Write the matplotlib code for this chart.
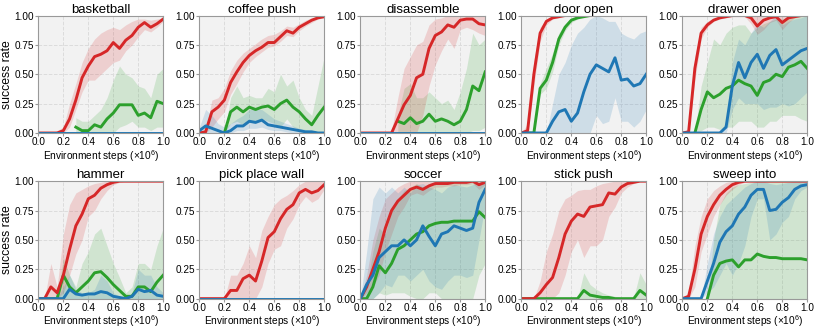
import numpy as np
import matplotlib.pyplot as plt

plt.rcParams['font.family'] = ['Liberation Sans', 'DejaVu Sans']
plt.rcParams['mathtext.fontset'] = 'custom'
plt.rcParams['mathtext.rm'] = 'Liberation Sans'
plt.rcParams['mathtext.it'] = 'Liberation Sans:italic'

nan = np.nan
steps = [0.0, 0.05, 0.1, 0.15, 0.2, 0.25, 0.3, 0.35, 0.4, 0.45, 0.5,
         0.55, 0.6, 0.65, 0.7, 0.75, 0.8, 0.85, 0.9, 0.95, 1.0]
zeros = [0.0] * 21
tasks = ["basketball", "coffee push", "disassemble", "door open", "drawer open",
         "hammer", "pick place wall", "soccer", "stick push", "sweep into"]

# basketball
bb_red = [0, 0, 0, 0, 0.02, 0.12, 0.28, 0.47, 0.57, 0.65, 0.67, 0.70, 0.77, 0.72, 0.79, 0.83, 0.90, 0.94, 0.90, 0.93, 0.97]
bb_red_lo = [0, 0, 0, 0, 0, 0.05, 0.2, 0.35, 0.45, 0.45, 0.5, 0.55, 0.6, 0.62, 0.7, 0.75, 0.82, 0.88, 0.86, 0.9, 0.95]
bb_red_hi = [0, 0, 0, 0.02, 0.05, 0.25, 0.42, 0.6, 0.72, 0.8, 0.85, 0.88, 0.9, 0.88, 0.92, 0.95, 0.97, 0.97, 0.96, 0.97, 0.98]
bb_green = [nan, nan, nan, nan, nan, nan, 0.05, 0.02, 0.02, 0.07, 0.05, 0.12, 0.17, 0.24, 0.24, 0.24, 0.15, 0.17, 0.13, 0.27, 0.25]
bb_green_lo = [nan, nan, nan, nan, nan, nan, 0, 0, 0, 0, 0, 0, 0, 0.05, 0.07, 0.1, 0.05, 0.05, 0.02, 0.05, 0.05]
bb_green_hi = [nan, nan, nan, nan, nan, nan, 0.13, 0.1, 0.1, 0.15, 0.2, 0.3, 0.45, 0.57, 0.5, 0.47, 0.4, 0.38, 0.3, 0.5, 0.55]
bb_blue = zeros

# coffee push
cp_red = [0, 0.01, 0.18, 0.22, 0.28, 0.43, 0.52, 0.6, 0.66, 0.70, 0.73, 0.77, 0.77, 0.82, 0.87, 0.85, 0.90, 0.93, 0.96, 0.98, 0.99]
cp_red_lo = [0, 0, 0.05, 0.12, 0.18, 0.33, 0.42, 0.52, 0.6, 0.65, 0.69, 0.73, 0.74, 0.78, 0.83, 0.82, 0.87, 0.91, 0.94, 0.97, 0.98]
cp_red_hi = [0, 0.03, 0.28, 0.3, 0.38, 0.53, 0.62, 0.68, 0.72, 0.76, 0.80, 0.83, 0.84, 0.87, 0.91, 0.9, 0.93, 0.96, 0.98, 0.99, 1.0]
cp_green = [nan, nan, nan, nan, 0, 0.18, 0.22, 0.18, 0.22, 0.2, 0.22, 0.23, 0.2, 0.25, 0.28, 0.22, 0.18, 0.12, 0.07, 0.15, 0.22]
cp_green_lo = [nan, nan, nan, nan, 0, 0.08, 0.1, 0.07, 0.1, 0.1, 0.12, 0.1, 0.08, 0.05, 0.12, 0.05, 0.03, 0.02, 0, 0, 0]
cp_green_hi = [nan, nan, nan, nan, 0, 0.3, 0.4, 0.3, 0.32, 0.3, 0.3, 0.38, 0.35, 0.5, 0.4, 0.45, 0.3, 0.2, 0.15, 0.4, 0.65]
cp_blue = [0.02, 0.06, 0.04, 0.02, 0, 0.02, 0.06, 0.06, 0.1, 0.09, 0.11, 0.07, 0.06, 0.05, 0.04, 0.03, 0.02, 0.01, 0.01, 0, 0]
cp_blue_lo = [0, 0, 0, 0, 0, 0, 0.02, 0.02, 0.04, 0.04, 0.05, 0.03, 0.02, 0.02, 0.01, 0, 0, 0, 0, 0, 0]
cp_blue_hi = [0.05, 0.2, 0.15, 0.08, 0.05, 0.08, 0.12, 0.15, 0.2, 0.2, 0.2, 0.16, 0.12, 0.1, 0.08, 0.06, 0.04, 0.03, 0.02, 0.01, 0.01]

# disassemble
di_red = [0, 0, 0, 0, 0, 0, 0.12, 0.24, 0.32, 0.47, 0.5, 0.72, 0.83, 0.86, 0.92, 0.9, 0.96, 0.97, 0.97, 0.93, 0.92]
di_red_lo = [0, 0, 0, 0, 0, 0, 0, 0, 0, 0, 0.15, 0.4, 0.58, 0.7, 0.8, 0.72, 0.88, 0.9, 0.88, 0.85, 0.83]
di_red_hi = [0, 0, 0, 0, 0, 0.02, 0.3, 0.55, 0.65, 0.75, 0.78, 0.92, 0.97, 0.98, 1, 1, 1, 1, 1, 1, 1]
di_green = [nan, nan, nan, nan, nan, nan, 0.1, 0.08, 0.13, 0.08, 0.1, 0.16, 0.1, 0.12, 0.1, 0.07, 0.1, 0.2, 0.4, 0.36, 0.52]
di_green_lo = [nan, nan, nan, nan, nan, nan, 0, 0, 0, 0, 0, 0, 0, 0, 0, 0, 0, 0, 0.02, 0.02, 0.05]
di_green_hi = [nan, nan, nan, nan, nan, nan, 0.15, 0.38, 0.42, 0.3, 0.3, 0.35, 0.3, 0.25, 0.28, 0.2, 0.35, 0.55, 0.85, 0.75, 0.8]
di_blue = zeros

# door open
do_red = [0, 0.02, 0.5, 0.85, 0.95, 0.98, 0.99, 1, 1, 1, 1, 1, 1, 1, 1, 1, 1, 1, 1, 1, 1]
do_red_lo = [0, 0, 0.4, 0.78, 0.92, 0.97, 0.98, 1, 1, 1, 1, 1, 1, 1, 1, 1, 1, 1, 1, 1, 1]
do_red_hi = [0, 0.08, 0.62, 0.9, 0.97, 0.99, 1, 1, 1, 1, 1, 1, 1, 1, 1, 1, 1, 1, 1, 1, 1]
do_green = [0, 0, 0, 0.38, 0.45, 0.6, 0.8, 0.9, 0.96, 0.98, 0.99, 1, 1, 1, 1, 1, 1, 1, 1, 1, 1]
do_green_lo = [0, 0, 0, 0.33, 0.38, 0.52, 0.75, 0.87, 0.94, 0.97, 0.99, 1, 1, 1, 1, 1, 1, 1, 1, 1, 1]
do_green_hi = [0, 0, 0, 0.42, 0.55, 0.68, 0.85, 0.93, 0.98, 0.99, 1, 1, 1, 1, 1, 1, 1, 1, 1, 1, 1]
do_blue = [0, 0, 0, 0, 0, 0.1, 0.18, 0.2, 0.1, 0.17, 0.35, 0.5, 0.58, 0.55, 0.52, 0.64, 0.45, 0.46, 0.4, 0.42, 0.5]
do_blue_lo = [0, 0, 0, 0, 0, 0, 0, 0, 0, 0, 0, 0, 0.15, 0.08, 0.1, 0.3, 0.1, 0.1, 0.05, 0.1, 0.2]
do_blue_hi = [0, 0, 0, 0, 0, 0.25, 0.5, 0.6, 0.75, 0.85, 0.9, 0.97, 1.0, 0.98, 0.95, 0.95, 0.85, 0.82, 0.8, 0.85, 0.87]

# drawer open
dr_red = [0, 0.01, 0.55, 0.85, 0.92, 0.96, 0.98, 0.99, 1, 1, 1, 0.98, 0.91, 0.96, 0.98, 0.99, 0.94, 0.98, 0.99, 1, 1]
dr_red_lo = [0, 0, 0.45, 0.8, 0.9, 0.95, 0.97, 0.98, 0.99, 0.99, 0.99, 0.93, 0.84, 0.88, 0.94, 0.96, 0.88, 0.94, 0.98, 0.99, 1]
dr_red_hi = [0, 0.04, 0.65, 0.9, 0.95, 0.98, 0.99, 1, 1, 1, 1, 1, 0.99, 1, 1, 1, 1, 1, 1, 1, 1]
dr_green = [nan, nan, 0, 0.2, 0.35, 0.3, 0.33, 0.38, 0.4, 0.45, 0.42, 0.4, 0.32, 0.43, 0.45, 0.5, 0.48, 0.56, 0.58, 0.61, 0.55]
dr_green_lo = [nan, nan, 0, 0.02, 0.05, 0.05, 0.03, 0.05, 0.05, 0.1, 0.1, 0.1, 0.05, 0.05, 0.1, 0.1, 0.15, 0.15, 0.15, 0.12, 0.1]
dr_green_hi = [nan, nan, 0, 0.4, 0.6, 0.8, 0.75, 0.85, 0.9, 0.92, 0.92, 0.85, 0.9, 0.93, 0.95, 0.97, 0.97, 0.98, 0.99, 1, 1]
dr_blue = [0, 0, 0, 0, 0, 0, 0, 0.05, 0.4, 0.6, 0.47, 0.6, 0.67, 0.55, 0.66, 0.71, 0.58, 0.62, 0.66, 0.7, 0.72]
dr_blue_lo = [0, 0, 0, 0, 0, 0, 0, 0, 0.2, 0.3, 0.25, 0.25, 0.25, 0.2, 0.22, 0.22, 0.25, 0.23, 0.25, 0.3, 0.35]
dr_blue_hi = [0, 0, 0, 0, 0, 0, 0, 0.1, 0.6, 0.8, 0.75, 0.85, 0.93, 0.9, 0.95, 1, 0.92, 0.95, 0.97, 0.98, 1]

# hammer
ha_red = [0, 0, 0.1, 0.05, 0.2, 0.42, 0.62, 0.72, 0.85, 0.88, 0.94, 0.97, 0.99, 1, 1, 1, 1, 1, 1, 1, 1]
ha_red_lo = [0, 0, 0, 0, 0.05, 0.2, 0.38, 0.5, 0.7, 0.75, 0.85, 0.92, 0.97, 0.99, 1, 1, 1, 1, 1, 1, 1]
ha_red_hi = [0, 0, 0.3, 0.1, 0.55, 0.8, 0.9, 0.93, 0.96, 0.98, 0.99, 1, 1, 1, 1, 1, 1, 1, 1, 1, 1]
ha_green = [0, 0, 0, 0, 0.2, 0.1, 0.05, 0.1, 0.15, 0.22, 0.23, 0.18, 0.12, 0.07, 0.02, 0.02, 0.1, 0.1, 0.06, 0.14, 0.2]
ha_green_lo = zeros
ha_green_hi = [0, 0, 0, 0, 0.35, 0.2, 0.1, 0.3, 0.4, 0.55, 0.6, 0.45, 0.3, 0.18, 0.05, 0.1, 0.3, 0.3, 0.25, 0.45, 0.6]
ha_blue = [0, 0, 0, 0, 0, 0.08, 0.04, 0.03, 0.04, 0.04, 0.06, 0.05, 0.02, 0.01, 0, 0.02, 0.08, 0.06, 0.07, 0.03, 0.02]
ha_blue_lo = zeros
ha_blue_hi = [0, 0, 0, 0, 0.1, 0.2, 0.08, 0.05, 0.05, 0.08, 0.2, 0.15, 0.05, 0.02, 0.01, 0.05, 0.25, 0.2, 0.2, 0.1, 0.05]

# pick place wall
pp_red = [0, 0, 0, 0, 0, 0.07, 0.07, 0.17, 0.2, 0.15, 0.32, 0.52, 0.57, 0.68, 0.76, 0.8, 0.9, 0.93, 0.9, 0.92, 0.97]
pp_red_lo = [0, 0, 0, 0, 0, 0, 0, 0, 0, 0, 0.1, 0.3, 0.42, 0.45, 0.6, 0.68, 0.8, 0.87, 0.82, 0.85, 0.93]
pp_red_hi = [0, 0, 0, 0, 0, 0.2, 0.2, 0.3, 0.45, 0.35, 0.58, 0.7, 0.8, 0.85, 0.88, 0.92, 0.97, 1, 1, 1, 1]
pp_blue = zeros

# soccer
so_red = [0, 0.1, 0.25, 0.4, 0.6, 0.75, 0.83, 0.88, 0.93, 0.95, 0.93, 0.96, 0.98, 0.98, 0.98, 0.99, 0.99, 0.99, 1.0, 0.97, 0.99]
so_red_lo = [0, 0.05, 0.1, 0.2, 0.4, 0.55, 0.7, 0.78, 0.88, 0.9, 0.88, 0.92, 0.95, 0.95, 0.96, 0.96, 0.97, 0.97, 0.98, 0.93, 0.97]
so_red_hi = [0, 0.2, 0.5, 0.7, 0.85, 0.9, 0.95, 0.98, 1, 1, 1, 1, 1, 1, 1, 1, 1, 1, 1, 1, 1]
so_green = [0, 0, 0.1, 0.28, 0.22, 0.3, 0.42, 0.45, 0.5, 0.55, 0.57, 0.62, 0.64, 0.65, 0.65, 0.66, 0.66, 0.66, 0.66, 0.74, 0.69]
so_green_lo = [0, 0, 0, 0.05, 0.03, 0.05, 0.05, 0.05, 0.02, 0, 0, 0.05, 0.05, 0, 0, 0, 0, 0, 0, 0.2, 0.3]
so_green_hi = [0, 0.1, 0.4, 0.6, 0.55, 0.75, 0.85, 0.92, 0.95, 0.98, 0.95, 0.98, 0.99, 1, 1, 1, 1, 1, 1, 1, 1]
so_blue = [0, 0.12, 0.2, 0.35, 0.4, 0.45, 0.45, 0.5, 0.45, 0.5, 0.62, 0.53, 0.45, 0.55, 0.57, 0.62, 0.6, 0.58, 0.6, 0.82, 0.93]
so_blue_lo = [0, 0, 0, 0.05, 0.12, 0.1, 0.2, 0.2, 0.15, 0.2, 0.25, 0.15, 0.1, 0.08, 0.15, 0.2, 0.2, 0.18, 0.2, 0.5, 0.8]
so_blue_hi = [0, 0.4, 0.85, 0.95, 0.9, 0.95, 0.9, 0.95, 0.9, 0.97, 0.98, 0.95, 0.93, 0.9, 0.95, 0.97, 0.96, 0.95, 0.97, 0.99, 1]

# stick push
sp_red = [0, 0, 0, 0.05, 0.12, 0.18, 0.35, 0.55, 0.66, 0.72, 0.7, 0.78, 0.79, 0.8, 0.9, 0.89, 0.95, 0.98, 0.99, 1, 1]
sp_red_lo = [0, 0, 0, 0, 0, 0, 0.05, 0.2, 0.4, 0.5, 0.35, 0.45, 0.45, 0.5, 0.7, 0.78, 0.9, 0.95, 0.98, 1, 1]
sp_red_hi = [0, 0, 0, 0.15, 0.4, 0.55, 0.75, 0.85, 0.88, 0.92, 0.93, 0.93, 0.96, 0.98, 0.99, 1, 1, 1, 1, 1, 1]
sp_green = [0, 0, 0, 0, 0, 0, 0, 0, 0, 0, 0.07, 0.03, 0.02, 0.01, 0.01, 0, 0, 0, 0, 0.07, 0.03]
sp_green_lo = zeros
sp_green_hi = [0, 0, 0, 0, 0, 0, 0, 0, 0, 0, 0.22, 0.12, 0.08, 0.05, 0.03, 0.02, 0.01, 0.01, 0.01, 0.22, 0.12]

# sweep into
sw_red = [0, 0.02, 0.25, 0.55, 0.7, 0.8, 0.88, 0.93, 0.97, 0.99, 1, 1, 1, 1, 1, 1, 1, 1, 1, 1, 1]
sw_red_lo = [0, 0, 0.1, 0.4, 0.55, 0.7, 0.8, 0.88, 0.93, 0.97, 0.99, 1, 1, 1, 1, 1, 1, 1, 1, 1, 1]
sw_red_hi = [0, 0.05, 0.45, 0.7, 0.85, 0.92, 0.96, 0.99, 1, 1, 1, 1, 1, 1, 1, 1, 1, 1, 1, 1, 1]
sw_green = [nan, nan, nan, nan, 0, 0.2, 0.3, 0.32, 0.33, 0.27, 0.33, 0.33, 0.38, 0.36, 0.35, 0.35, 0.34, 0.34, 0.34, 0.34, 0.33]
sw_green_lo = [nan, nan, nan, nan, 0, 0, 0, 0, 0, 0, 0, 0, 0, 0, 0, 0, 0, 0, 0, 0, 0]
sw_green_hi = [nan, nan, nan, nan, 0, 0.5, 0.8, 0.9, 0.95, 0.97, 0.98, 0.99, 1, 1, 1, 1, 1, 1, 1, 1, 1]
sw_blue = [0, 0, 0, 0, 0.15, 0.3, 0.48, 0.57, 0.62, 0.72, 0.78, 0.88, 0.93, 0.93, 0.75, 0.76, 0.82, 0.86, 0.93, 0.96, 0.97]
sw_blue_lo = [0, 0, 0, 0, 0.05, 0.1, 0.2, 0.3, 0.2, 0.3, 0.45, 0.7, 0.85, 0.85, 0.5, 0.55, 0.65, 0.7, 0.85, 0.92, 0.95]
sw_blue_hi = [0, 0, 0, 0, 0.3, 0.55, 0.7, 0.8, 0.85, 0.9, 0.95, 0.98, 1, 1, 0.98, 0.97, 0.98, 0.99, 1, 1, 1]

# per panel: (mean, lo, hi) for green, red, blue ; None = not shown
panels = [
    [(bb_green, bb_green_lo, bb_green_hi), (bb_red, bb_red_lo, bb_red_hi), (bb_blue, None, None)],
    [(cp_green, cp_green_lo, cp_green_hi), (cp_red, cp_red_lo, cp_red_hi), (cp_blue, cp_blue_lo, cp_blue_hi)],
    [(di_green, di_green_lo, di_green_hi), (di_red, di_red_lo, di_red_hi), (di_blue, None, None)],
    [(do_green, do_green_lo, do_green_hi), (do_red, do_red_lo, do_red_hi), (do_blue, do_blue_lo, do_blue_hi)],
    [(dr_green, dr_green_lo, dr_green_hi), (dr_red, dr_red_lo, dr_red_hi), (dr_blue, dr_blue_lo, dr_blue_hi)],
    [(ha_green, ha_green_lo, ha_green_hi), (ha_red, ha_red_lo, ha_red_hi), (ha_blue, ha_blue_lo, ha_blue_hi)],
    [None, (pp_red, pp_red_lo, pp_red_hi), (pp_blue, None, None)],
    [(so_green, so_green_lo, so_green_hi), (so_red, so_red_lo, so_red_hi), (so_blue, so_blue_lo, so_blue_hi)],
    [(sp_green, sp_green_lo, sp_green_hi), (sp_red, sp_red_lo, sp_red_hi), None],
    [(sw_green, sw_green_lo, sw_green_hi), (sw_red, sw_red_lo, sw_red_hi), (sw_blue, sw_blue_lo, sw_blue_hi)],
]
colors = ["#2ca02c", "#d62728", "#1f77b4"]

fig, axes = plt.subplots(2, 5, figsize=(8.17, 3.30), dpi=100)
fig.subplots_adjust(left=0.047, right=0.988, top=0.953, bottom=0.095, wspace=0.29, hspace=0.41)

for k, ax in enumerate(axes.flat):
    ax.set_facecolor("#f2f2f2")
    ax.grid(True, color="#dcdcdc", linestyle="--", linewidth=0.7)
    ax.set_axisbelow(True)
    for series, c in zip(panels[k], colors):
        if series is None:
            continue
        mean, lo, hi = series
        if lo is not None:
            ax.fill_between(steps, lo, hi, color=c, alpha=0.17, linewidth=0)
    for series, c in zip(panels[k], colors):
        if series is None:
            continue
        ax.plot(steps, series[0], color=c, linewidth=2.1)
    ax.set_xlim(0, 1)
    ax.set_ylim(0, 1)
    ax.set_xticks([0, 0.2, 0.4, 0.6, 0.8, 1.0])
    ax.set_yticks([0, 0.25, 0.5, 0.75, 1.0])
    ax.set_yticklabels(["0.00", "0.25", "0.50", "0.75", "1.00"])
    ax.tick_params(labelsize=7.2, length=2, width=0.8, color="#999999", pad=1)
    for s in ax.spines.values():
        s.set_color("#999999")
        s.set_linewidth(0.8)
    ax.set_title(tasks[k], fontsize=9.5, pad=1.5)
    ax.set_xlabel(r"Environment steps ($\times 10^6$)", fontsize=7.3, labelpad=0.5)
    if k % 5 == 0:
        ax.set_ylabel("success rate", fontsize=8.8, labelpad=1.5)

plt.savefig("out.png")
